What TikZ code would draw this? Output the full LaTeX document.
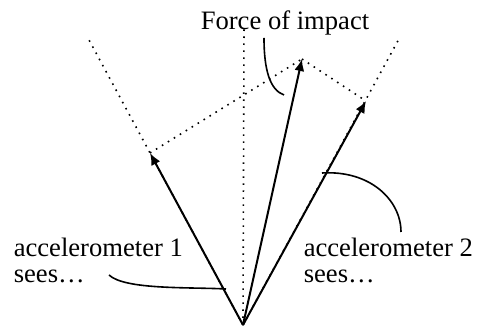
\documentclass[tikz,border=0pt]{standalone}
\usepackage{fontspec}
\setmainfont{Liberation Serif}
\usepackage{tikz}
\usetikzlibrary{arrows.meta, positioning}

\begin{document}
\begin{tikzpicture}[x=0.5pt, y=-0.5pt, line width=0.8pt,
        axis/.style={line width=0.8pt, dash pattern=on 0.8pt off 2.7pt},
        vec/.style={-{Latex[length=6pt,width=5pt]}, line width=1pt},
        lbl/.style={anchor=base west, inner sep=0pt, font=\fontsize{13.3}{13}\selectfont, align=left}]
        \useasboundingbox (0,0) rectangle (479,331);
        % points
        \coordinate (o) at (243,325);
        \coordinate (l) at (89,40);
        \coordinate (r) at (400,37);
        \coordinate (v) at (244,28);
        \coordinate (a1) at (150,153);
        \coordinate (a2) at (366,101);
        \coordinate (f) at (302,59);

        % labels
        \node[lbl] (force) at (200,30) {Force of impact};
        \node[lbl] (acc1) at (13,257) {accelerometer 1};
        \node[lbl] (sees1) at (13,283) {sees…};
        \node[lbl] (acc2) at (303,257) {accelerometer 2};
        \node[lbl] (sees2) at (303,283) {sees…};

        \path[axis]
        (o) edge (l)
        (o) edge (r)
        (o) edge (v)
        (a1) edge (f)
        (f) edge (a2);

        \path[vec]
        (o) edge (a1)
        (o) edge (a2)
        (o) edge (f);

        % pointers
        \coordinate (p1) at (109,275);
        \coordinate (q1) at (226,289);
        \coordinate (p2) at (401,232);
        \coordinate (q2) at (322,173);
        \coordinate (p3) at (264,38);
        \coordinate (q3) at (284,95);
        \draw (p1) .. controls (125,290) and (190,287) .. (q1);
        \draw (p2) .. controls (401,200) and (370,170) .. (q2);
        \draw (p3) .. controls (264,70) and (270,90) .. (q3);
\end{tikzpicture}
\end{document}
